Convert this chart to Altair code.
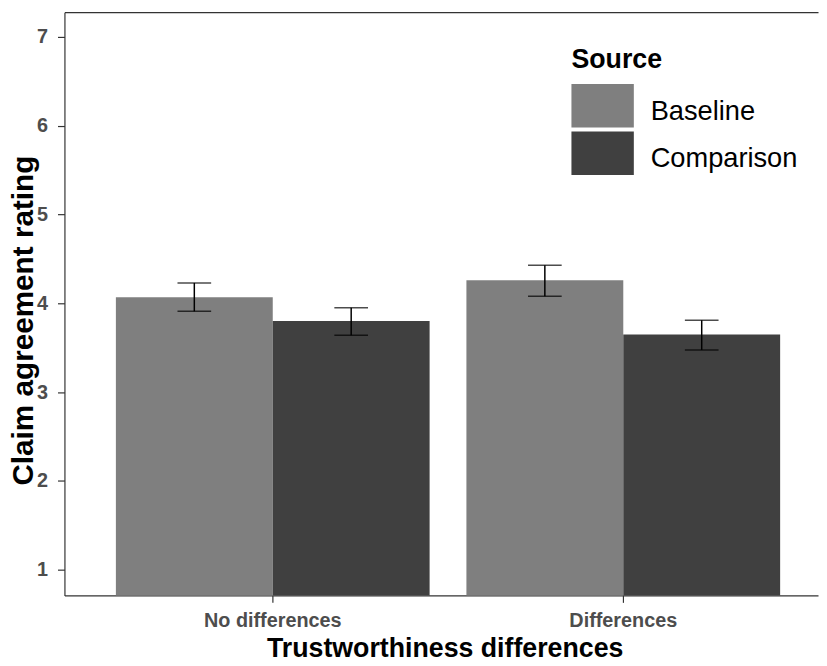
import altair as alt
import pandas as pd

groups = ["No differences", "No differences", "Differences", "Differences"]
sources = ["Baseline", "Comparison", "Baseline", "Comparison"]
means = [4.07, 3.80, 4.26, 3.65]
lows = [3.91, 3.64, 4.08, 3.475]
highs = [4.23, 3.95, 4.43, 3.81]

group_order = ["No differences", "Differences"]
source_order = ["Baseline", "Comparison"]
source_colors = ["#7f7f7f", "#404040"]
y_ticks = [1, 2, 3, 4, 5, 6, 7]

df = pd.DataFrame({"group": groups, "source": sources, "mean": means,
                   "lo": lows, "hi": highs})

FONT = "Liberation Sans"
FRAME = "#333333"

x_scale = alt.Scale(paddingInner=0.105, paddingOuter=0.1274, align=0.576)
x_enc = alt.X("group:N", sort=group_order, scale=x_scale,
              axis=alt.Axis(title="Trustworthiness differences", labelAngle=0,
                            orient="bottom",
                            domain=True, domainColor=FRAME, domainWidth=1.2,
                            labelFontSize=20, labelFontWeight="bold",
                            labelColor="#4d4d4d", labelPadding=8,
                            tickSize=7, tickColor=FRAME, tickWidth=1.2,
                            titleFontSize=27, titleFontWeight="bold",
                            titleColor="#000000", titlePadding=6,
                            titleX=384, titleAlign="center"))
x_top = alt.X("group:N", sort=group_order, scale=x_scale,
              axis=alt.Axis(orient="top", title=None, labels=False, ticks=False,
                            domain=True, domainColor=FRAME, domainWidth=1.2))
x_plain = alt.X("group:N", sort=group_order, scale=x_scale, axis=None)
xoff = alt.XOffset("source:N", sort=source_order,
                   scale=alt.Scale(paddingInner=0, paddingOuter=0))
y_scale = alt.Scale(domain=[0.71, 7.28], nice=False, zero=False)

bars = alt.Chart(df).mark_bar(clip=True).encode(
    x=x_enc,
    xOffset=xoff,
    y=alt.Y("mean:Q", scale=y_scale,
            axis=alt.Axis(title="Claim agreement rating", values=y_ticks,
                          format="d",
                          domain=True, domainColor=FRAME, domainWidth=1.2,
                          labelFontSize=20, labelFontWeight="bold",
                          labelColor="#4d4d4d", labelPadding=10,
                          tickSize=7, tickColor=FRAME, tickWidth=1.2,
                          titleFontSize=30, titleFontWeight="bold",
                          titleColor="#000000", titleBaseline="middle",
                          titleX=-41, titleY=311, titleAngle=-90)),
    color=alt.Color("source:N", sort=source_order,
                    scale=alt.Scale(domain=source_order, range=source_colors),
                    legend=alt.Legend(title="Source", orient="none",
                                      legendX=512, legendY=35,
                                      titleFontSize=27, titleFontWeight="bold",
                                      titleColor="#000000", titlePadding=7,
                                      labelFontSize=27.5, labelColor="#000000",
                                      labelOffset=17,
                                      symbolType="M-1,-0.89H1V0.51H-1Z",
                                      symbolSize=3969, symbolOpacity=1,
                                      symbolStrokeWidth=0,
                                      rowPadding=-15, padding=0)),
)

rules = alt.Chart(df).mark_rule(color="#000000", strokeWidth=1.5).encode(
    x=x_top,
    xOffset=xoff,
    y=alt.Y("lo:Q", scale=y_scale),
    y2="hi:Q",
)
caps_lo = alt.Chart(df).mark_tick(color="#000000", thickness=1.5, size=34,
                                  orient="horizontal").encode(
    x=x_plain,
    xOffset=xoff,
    y=alt.Y("lo:Q", scale=y_scale),
)
caps_hi = alt.Chart(df).mark_tick(color="#000000", thickness=1.5, size=34,
                                  orient="horizontal").encode(
    x=x_plain,
    xOffset=xoff,
    y=alt.Y("hi:Q", scale=y_scale),
)

chart = alt.layer(bars, rules, caps_lo, caps_hi).resolve_axis(
    x="independent"
).properties(
    width=761, height=589,
    autosize=alt.AutoSizeParams(type="none"),
    padding={"left": 57, "top": 1, "right": 1, "bottom": 60},
).configure_view(strokeWidth=0).configure_axis(
    domain=False, grid=False, labelFont=FONT, titleFont=FONT
).configure_legend(labelFont=FONT, titleFont=FONT)

chart.save("out.html", embed_options={"renderer": "svg", "actions": False})
